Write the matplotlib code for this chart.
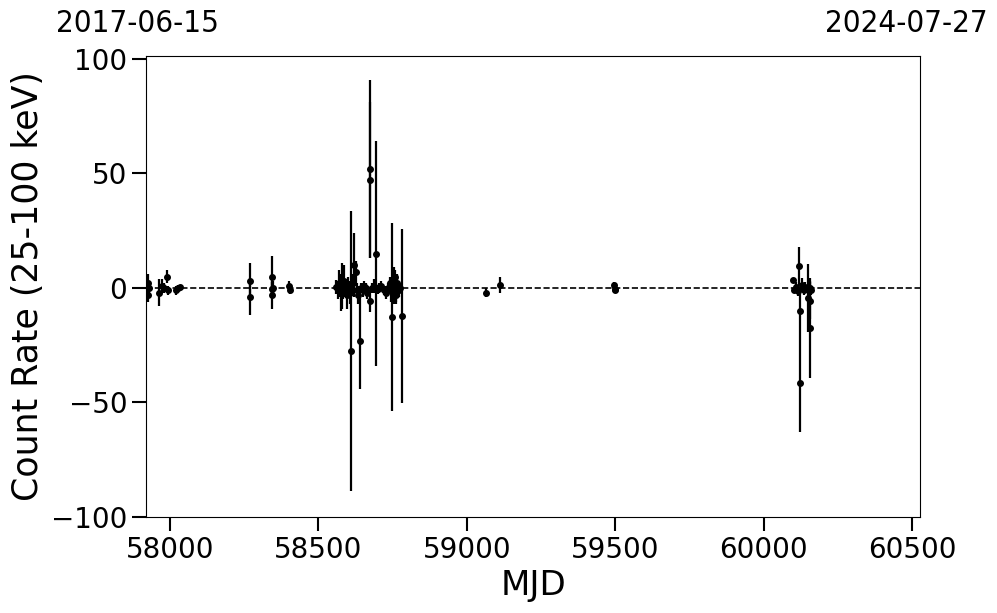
import matplotlib
matplotlib.use("Agg")
import matplotlib.pyplot as plt

# ---- data ----
mjd = [
    57926, 57926, 57928, 57964, 57973, 57979, 57990, 57993, 58020, 58027, 58033,
    58270, 58271, 58342, 58344, 58345, 58347, 58402, 58405,
    58560, 58565, 58570, 58575, 58578, 58582, 58585, 58588, 58592, 58595, 58598,
    58602, 58605, 58610, 58615, 58620, 58625, 58630, 58635, 58640, 58645, 58650,
    58655, 58660, 58665, 58673, 58673, 58675, 58680, 58688, 58694, 58700, 58705,
    58712, 58720, 58728, 58735, 58740, 58745, 58748, 58752, 58755, 58758, 58760,
    58763, 58766, 58770, 58775, 58782,
    59065, 59112,
    59496, 59498, 59500,
    60100, 60104, 60110, 60116, 60120, 60122, 60122, 60130, 60135, 60140,
    60150, 60155, 60156, 60157, 60160,
]
rate = [
    2.0, -3.0, 0.0, -2.0, 1.0, 0.0, 5.0, -1.0, -1.0, 0.0, 0.5,
    3.0, -4.0, 5.0, -0.5, -3.0, 0.0, 1.0, -1.0,
    0.5, -1.0, 2.0, -2.0, 1.0, 0.0, 3.0, -1.0, 0.5, -3.0, 1.0,
    0.0, -2.0, -27.5, 2.0, 10.0, 7.0, -1.0, -3.0, -23.0, 0.0, -1.0,
    1.0, 0.0, -2.0, 52.0, 47.0, -5.7, 0.0, 1.0, 15.0, -0.5, 0.0,
    1.0, -1.0, -2.0, 0.0, 2.0, -1.0, -12.7, 3.0, 1.0, 5.0, -3.0,
    0.0, 2.0, -1.0, 0.0, -12.2,
    -2.0, 1.3,
    1.3, -1.0, -0.5,
    3.5, -1.0, 0.5, -1.5, 9.6, -10.0, -41.5, 1.3, -1.0, 0.5,
    -4.4, -5.5, -17.5, 0.0, -1.0,
]
err = [
    4.0, 3.0, 2.0, 6.0, 3.0, 2.0, 3.0, 2.0, 2.0, 1.5, 1.0,
    8.0, 8.0, 9.0, 3.0, 6.0, 3.0, 2.0, 1.5,
    3.0, 4.0, 6.0, 8.0, 10.0, 5.0, 7.0, 3.0, 2.0, 6.0, 4.0,
    3.0, 5.0, 61.0, 4.0, 14.0, 5.0, 3.0, 4.0, 21.0, 2.0, 3.0,
    2.0, 2.0, 3.0, 39.0, 34.0, 5.0, 2.0, 3.0, 49.0, 2.0, 2.0,
    2.0, 2.0, 3.0, 2.0, 3.0, 5.0, 41.0, 6.0, 8.0, 3.0, 4.0,
    6.0, 4.0, 3.0, 2.0, 38.0,
    2.0, 3.5,
    1.5, 1.0, 1.0,
    1.0, 1.0, 2.0, 2.0, 8.5, 10.0, 21.5, 3.0, 2.0, 2.0,
    15.0, 8.0, 22.0, 3.0, 2.0,
]
start_label = "2017-06-15"
end_label = "2024-07-27"
xlim = (57919, 60527)
ylim = (-100, 101.3)

fig = plt.figure(figsize=(9.97, 6.13), dpi=100)
ax = fig.add_axes([146/997, 96/613, (920-146)/997, (517-56)/613])

ax.errorbar(mjd, rate, yerr=err, fmt='o', color='black', ms=4, elinewidth=1.6,
            capsize=0, zorder=3)
ax.axhline(0, color='black', ls='--', lw=1.2, zorder=2)

ax.set_xlim(*xlim)
ax.set_ylim(*ylim)
ax.set_xticks([58000, 58500, 59000, 59500, 60000, 60500])
ax.set_yticks([-100, -50, 0, 50, 100])
ax.tick_params(axis='both', which='major', labelsize=20, length=10, width=1.5,
               direction='out')
ax.set_xlabel("MJD", fontsize=24.5)
ax.set_ylabel("Count Rate (25-100 keV)", fontsize=25)

fig.text(137/997, 1 - 23/613, start_label, fontsize=22.5, ha='center', va='center',
         fontstretch='condensed')
fig.text(906/997, 1 - 23/613, end_label, fontsize=22.5, ha='center', va='center',
         fontstretch='condensed')

fig.savefig("out.png", dpi=100)
